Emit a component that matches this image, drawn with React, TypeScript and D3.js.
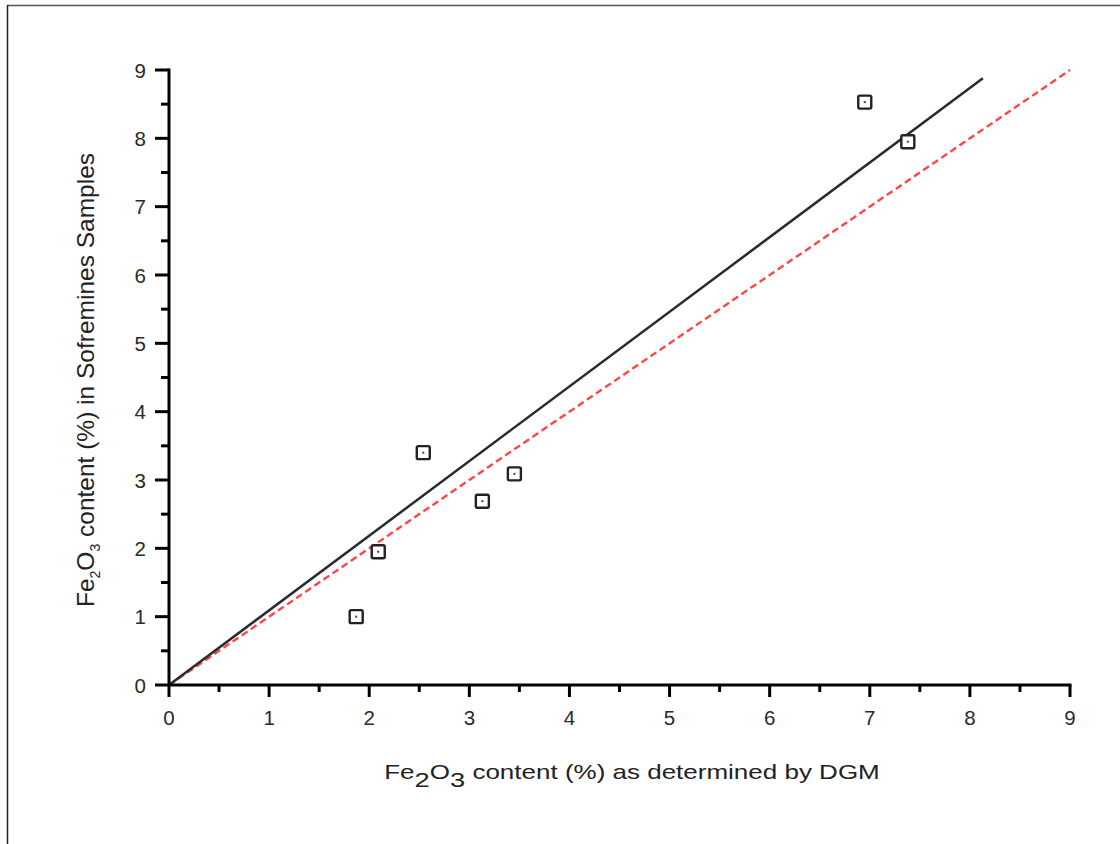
import React from "react";
import * as d3 from "d3";

const dgmValues = [1.87, 2.09, 2.54, 3.13, 3.45, 6.95, 7.38];
const sofreminesValues = [1.0, 1.95, 3.4, 2.69, 3.09, 8.53, 7.95];
const fitLineX = [0, 8.13];
const fitLineY = [0, 8.88];
const identityLine = [0, 9];
const majorTicks = [0, 1, 2, 3, 4, 5, 6, 7, 8, 9];
const minorTicks = [0.5, 1.5, 2.5, 3.5, 4.5, 5.5, 6.5, 7.5, 8.5];

const W = 1120;
const H = 844;
const x0 = 169, x1 = 1070, y0 = 685, y1 = 70;

export default function App() {
  const x = d3.scaleLinear().domain([0, 9]).range([x0, x1]);
  const y = d3.scaleLinear().domain([0, 9]).range([y0, y1]);
  const line = d3.line<[number, number]>().x((d) => x(d[0])).y((d) => y(d[1]));
  const fitPts: [number, number][] = fitLineX.map((v, i) => [v, fitLineY[i]]);
  const idPts: [number, number][] = identityLine.map((v) => [v, v]);
  const font = "Arial, 'Liberation Sans', sans-serif";
  const axisColor = "#000";
  const tickText = "#2a2a2a";
  const majorLen = 12;
  const minorLen = 7;
  const sq = 13;

  return (
    <svg
      width={W}
      height={H}
      style={{ position: "absolute", left: 0, top: 0, background: "#fff" }}
      fontFamily={font}
    >
      <rect x={0} y={0} width={W} height={H} fill="#fff" />
      {/* border */}
      <line x1={7} y1={5.5} x2={W} y2={5.5} stroke="#555" strokeWidth={1.5} />
      <line x1={7.5} y1={5} x2={7.5} y2={H} stroke="#222" strokeWidth={1.5} />

      {/* identity dashed line */}
      <path d={line(idPts) || ""} fill="none" stroke="#ff4545" strokeWidth={2.4} strokeDasharray="7,4" />
      {/* fit line */}
      <path d={line(fitPts) || ""} fill="none" stroke="#2b2b2b" strokeWidth={2.5} />

      {/* axes */}
      <line x1={x0} y1={y0} x2={x1 + 1.5} y2={y0} stroke={axisColor} strokeWidth={3} />
      <line x1={x0} y1={y0} x2={x0} y2={y1 - 1.5} stroke={axisColor} strokeWidth={3} />
      {majorTicks.map((t) => (
        <g key={"xm" + t}>
          <line x1={x(t)} x2={x(t)} y1={y0} y2={y0 + majorLen} stroke={axisColor} strokeWidth={3} />
          <text x={x(t)} y={y0 + 40} textAnchor="middle" fontSize={20.5} fill={tickText}>
            {t}
          </text>
        </g>
      ))}
      {minorTicks.map((t) => (
        <line key={"xn" + t} x1={x(t)} x2={x(t)} y1={y0} y2={y0 + minorLen} stroke={axisColor} strokeWidth={3} />
      ))}
      {majorTicks.map((t) => (
        <g key={"ym" + t}>
          <line x1={x0 - majorLen - 2} x2={x0} y1={y(t)} y2={y(t)} stroke={axisColor} strokeWidth={3} />
          <text x={x0 - 23} y={y(t) + 7.5} textAnchor="end" fontSize={20.5} fill={tickText}>
            {t}
          </text>
        </g>
      ))}
      {minorTicks.map((t) => (
        <line key={"yn" + t} x1={x0 - minorLen - 1} x2={x0} y1={y(t)} y2={y(t)} stroke={axisColor} strokeWidth={3} />
      ))}

      {/* markers */}
      {dgmValues.map((v, i) => (
        <g key={"p" + i}>
          <rect
            x={x(v) - sq / 2}
            y={y(sofreminesValues[i]) - sq / 2}
            width={sq}
            height={sq}
            fill="#fff"
            stroke="#222"
            strokeWidth={2.4}
            rx={1.5}
          />
          <rect x={x(v) - 1} y={y(sofreminesValues[i]) - 1} width={2} height={2} fill="#444" />
        </g>
      ))}

      {/* x label */}
      <g transform="translate(632,779) scale(1.3,1)">
        <text x={0} y={0} textAnchor="middle" fontSize={20} fill="#222">
          <tspan>Fe</tspan>
          <tspan dy={8} fontSize={21}>2</tspan>
          <tspan dy={-8}>O</tspan>
          <tspan dy={8} fontSize={21}>3</tspan>
          <tspan dy={-8}> content (%) as determined by DGM</tspan>
        </text>
      </g>

      {/* y label */}
      <text
        transform={`translate(${94},${380}) rotate(-90)`}
        textAnchor="middle"
        fontSize={24.5}
        fill="#222"
      >
        <tspan>Fe</tspan>
        <tspan fontSize={14} dy={6}>2</tspan>
        <tspan dy={-6}>O</tspan>
        <tspan fontSize={14} dy={6}>3</tspan>
        <tspan dy={-6}> content (%) in Sofremines Samples</tspan>
      </text>
    </svg>
  );
}
